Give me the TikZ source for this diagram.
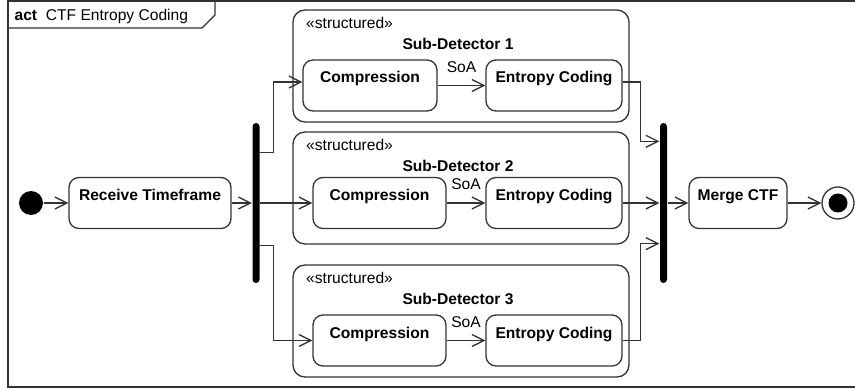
\documentclass[tikz,border=0pt]{standalone}
\usepackage{fontspec}
\setmainfont{Liberation Sans}
\usetikzlibrary{arrows.meta}
\definecolor{ln}{RGB}{51,51,51}
\begin{document}
\fontsize{15.6}{18}\selectfont
\begin{tikzpicture}[x=1pt,y=-1pt,line width=1.3pt,
  action/.style={draw=ln, rounded corners=10pt, inner sep=0pt, text height=23pt, text depth=28pt, font=\bfseries, align=center},
  group/.style={draw=ln, rounded corners=12pt, inner sep=0pt, minimum width=336pt, minimum height=112pt},
  bar/.style={fill=black, rounded corners=3.5pt, minimum width=7pt, minimum height=160pt, inner sep=0pt},
  flow/.style={draw=ln, -{Straight Barb[length=12pt,width=12pt]}},
  stereo/.style={anchor=base west},
  gtitle/.style={anchor=base, font=\bfseries},
  soa/.style={anchor=base, yshift=13pt}]
\useasboundingbox (0,0) rectangle (855,390);
% frame
\draw[ln] (860,1) -- (8,1) -- (8,387) -- (860,387);
\draw[ln] (8,28) -- (202,28) -- (215,15) -- (215,1);
\node[anchor=base west, inner sep=0pt] (frametitle) at (14,21) {\textbf{act}\ \ CTF Entropy Coding};
% nodes
\node[circle, fill=black, minimum size=24pt, inner sep=0pt] (init) at (31,203) {};
\node[action, minimum width=162pt] (recv) at (150,203) {Receive Timeframe};
\node[bar] (fork) at (256,203) {};
\node[group] (sd1) at (461,66) {};
\node[group] (sd2) at (461,188) {};
\node[group] (sd3) at (461,321) {};
\node[stereo] (st1) at ([xshift=8pt,yshift=-19pt]sd1.north west) {«structured»};
\node[stereo] (st2) at ([xshift=8pt,yshift=-19pt]sd2.north west) {«structured»};
\node[stereo] (st3) at ([xshift=8pt,yshift=-19pt]sd3.north west) {«structured»};
\node[gtitle] (t1) at ([xshift=-3pt,yshift=-40pt]sd1.north) {Sub-Detector 1};
\node[gtitle] (t2) at ([xshift=-3pt,yshift=-40pt]sd2.north) {Sub-Detector 2};
\node[gtitle] (t3) at ([xshift=-3pt,yshift=-40pt]sd3.north) {Sub-Detector 3};
\node[action, minimum width=134pt] (comp1) at (370,85.5) {Compression};
\node[action, minimum width=136pt] (ent1) at (554,85.5) {Entropy Coding};
\node[action, minimum width=133pt] (comp2) at (379.5,203) {Compression};
\node[action, minimum width=136pt] (ent2) at (554,203) {Entropy Coding};
\node[action, minimum width=133pt] (comp3) at (379.5,340.5) {Compression};
\node[action, minimum width=136pt] (ent3) at (554,340.5) {Entropy Coding};
\node[bar] (join) at (663.5,203) {};
\node[action, minimum width=98pt] (merge) at (738,203) {Merge CTF};
\node[circle, draw=ln, minimum size=32pt, inner sep=0pt,
  path picture={\fill[black] (path picture bounding box.center) circle (9.5pt);}] (final) at (838,203) {};
% connectors
\draw[flow] (init) -- (recv);
\draw[flow] (recv.east) -- (fork.west |- recv.east);
\draw[flow] ([yshift=-30pt]fork.north east) -- ++(13,0) |- ([yshift=3.5pt]comp1.west);
\draw[flow] (fork.east) -- (comp2.west);
\draw[flow] ([yshift=38pt]fork.south east) -- ++(13,0) |- (comp3.west);
\draw[flow] (comp1) -- node[soa] {SoA} (ent1);
\draw[flow] (comp2) -- node[soa] {SoA} (ent2);
\draw[flow] (comp3) -- node[soa] {SoA} (ent3);
\draw[flow] ([yshift=3.5pt]ent1.east) -- ++(18,0) |- ([yshift=-19pt]join.north west);
\draw[flow] (ent2.east) -- (join.west |- ent2.east);
\draw[flow] (ent3.east) -- ++(18,0) |- ([yshift=40pt]join.south west);
\draw[flow] (join.east) -- (merge.west);
\draw[flow] (merge) -- (final);
\end{tikzpicture}
\end{document}
